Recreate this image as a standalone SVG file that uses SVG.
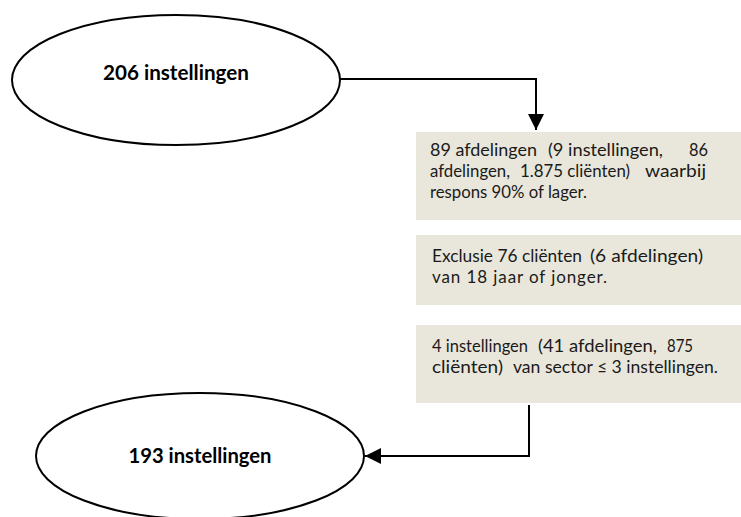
<svg xmlns="http://www.w3.org/2000/svg" width="741" height="517" viewBox="0 0 741 517">
  <defs>
    <style>
      .node { fill: #ffffff; stroke: #000000; stroke-width: 2; }
      .box { fill: #E9E7DB; stroke: none; }
      .label { font-family: Lato, "Liberation Sans", Arial, sans-serif; font-weight: bold; font-size: 21px; fill: #000000; text-anchor: middle; }
      .body { font-family: Lato, "Liberation Sans", Arial, sans-serif; font-size: 17px; fill: #1a1a1a; }
      .conn { fill: none; stroke: #000000; stroke-width: 2; }
    </style>
    <marker id="arrow" viewBox="0 0 16 16" refX="16" refY="8" markerWidth="16" markerHeight="16" markerUnits="userSpaceOnUse" orient="auto">
      <path d="M0,0 L16,8 L0,16 Z" fill="#000000"/>
    </marker>
  </defs>
  <rect width="741" height="517" fill="#ffffff"/>

  <g id="node-206">
    <ellipse class="node" cx="176" cy="80" rx="164" ry="65"/>
    <text class="label" x="176" y="80" textLength="146" lengthAdjust="spacingAndGlyphs">206 instellingen</text>
  </g>

  <g id="box-1">
    <rect class="box" x="416" y="132" width="325" height="88"/>
    <text class="body" y="156"><tspan x="430" textLength="107" lengthAdjust="spacingAndGlyphs">89 afdelingen</tspan><tspan x="548" textLength="115" lengthAdjust="spacingAndGlyphs">(9 instellingen,</tspan><tspan x="689" textLength="19" lengthAdjust="spacingAndGlyphs">86</tspan></text>
    <text class="body" y="177"><tspan x="430" textLength="80" lengthAdjust="spacingAndGlyphs">afdelingen,</tspan><tspan x="520" textLength="110" lengthAdjust="spacingAndGlyphs">1.875 cliënten)</tspan><tspan x="645" textLength="61" lengthAdjust="spacingAndGlyphs">waarbij</tspan></text>
    <text class="body" x="430" y="198" textLength="157" lengthAdjust="spacingAndGlyphs">respons 90% of lager.</text>
  </g>

  <g id="box-2">
    <rect class="box" x="416" y="235" width="325" height="70"/>
    <text class="body" y="262"><tspan x="432" textLength="150" lengthAdjust="spacingAndGlyphs">Exclusie 76 cliënten</tspan><tspan x="590" textLength="113" lengthAdjust="spacingAndGlyphs">(6 afdelingen)</tspan></text>
    <text class="body" x="432" y="283" textLength="175" lengthAdjust="spacing">van 18 jaar of jonger.</text>
  </g>

  <g id="box-3">
    <rect class="box" x="416" y="325" width="325" height="78"/>
    <text class="body" y="352"><tspan x="432" textLength="96" lengthAdjust="spacingAndGlyphs">4 instellingen</tspan><tspan x="538" textLength="119" lengthAdjust="spacingAndGlyphs">(41 afdelingen,</tspan><tspan x="667" textLength="26" lengthAdjust="spacingAndGlyphs">875</tspan></text>
    <text class="body" y="373"><tspan x="432" textLength="71" lengthAdjust="spacingAndGlyphs">cliënten)</tspan><tspan x="513" textLength="205" lengthAdjust="spacingAndGlyphs">van sector ≤ 3 instellingen.</tspan></text>
  </g>

  <g id="node-193">
    <ellipse class="node" cx="200" cy="456" rx="164" ry="63"/>
    <text class="label" x="200" y="463" textLength="143" lengthAdjust="spacingAndGlyphs">193 instellingen</text>
  </g>

  <g id="connectors">
    <path class="conn" d="M340,79 H536 V130" marker-end="url(#arrow)"/>
    <path class="conn" d="M529,405 V456 H365" marker-end="url(#arrow)"/>
  </g>
</svg>
